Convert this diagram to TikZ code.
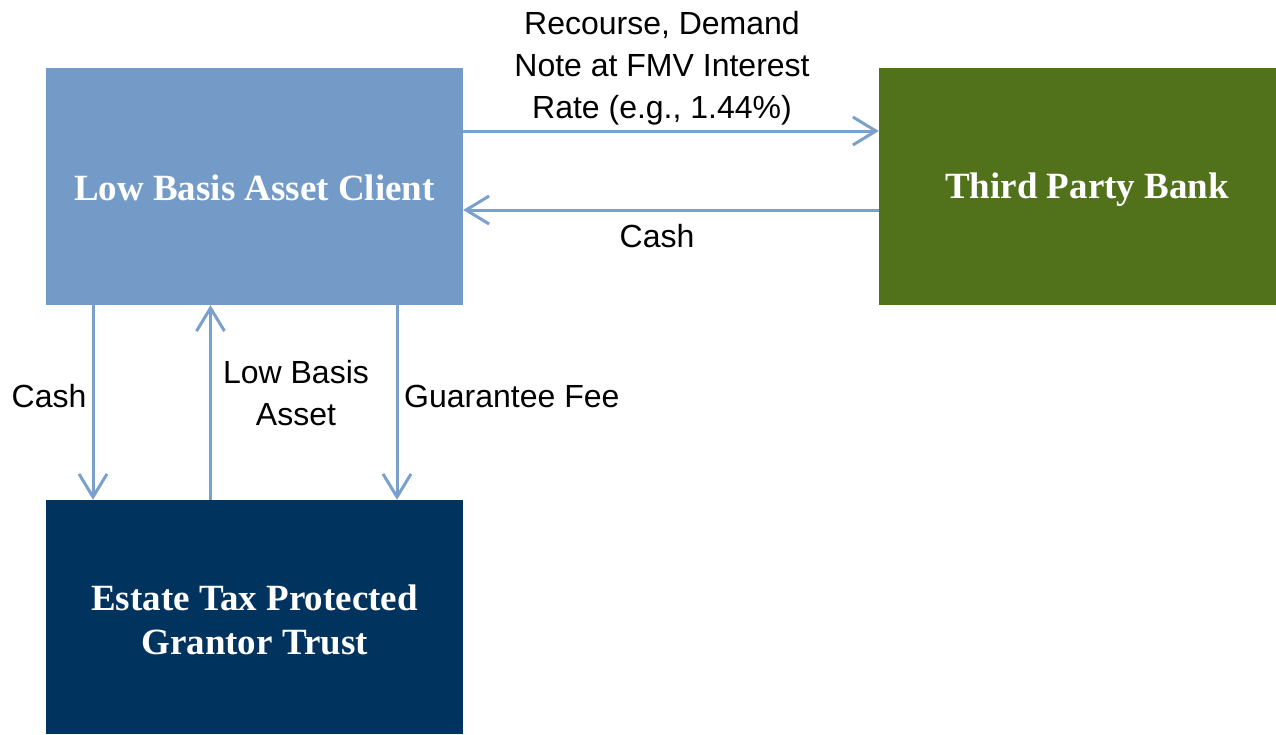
\documentclass[tikz,border=0pt]{standalone}
\usepackage{fontspec}
\setmainfont{Liberation Serif}
\newfontfamily\lsans{Liberation Sans}
\usetikzlibrary{arrows.meta,calc}
\definecolor{clientblue}{HTML}{749BC7}
\definecolor{bankgreen}{HTML}{52711B}
\definecolor{trustnavy}{HTML}{00345F}
\definecolor{arrowblue}{HTML}{7AA0CE}
\tikzset{
  box/.style={rectangle, inner sep=0pt, text=white, align=center,
    font=\fontsize{37}{44}\selectfont\bfseries},
  flow/.style={draw=arrowblue, line width=3pt,
    -{Straight Barb[length=23pt,width=28pt,line width=3pt]}},
  lbl/.style={align=center, inner sep=0pt, text=black,
    font=\lsans\fontsize{32}{42}\selectfont}
}
\begin{document}
\begin{tikzpicture}[x=1pt,y=-1pt]
\useasboundingbox[fill=white] (0,0) rectangle (1276,734);
\node[box, fill=clientblue, minimum width=417pt, minimum height=237pt] (client) at (254.5,186.5) {};
\node[box, fill=bankgreen, minimum width=397pt, minimum height=237pt] (bank) at (1077.5,186.5) {};
\node[box, fill=trustnavy, minimum width=417pt, minimum height=234pt] (trust) at (254.5,617) {};
\node[box] (clienttext) at (254.5,187.5) {Low Basis Asset Client};
\node[box] (banktext) at (1087,190) {Third Party Bank};
\node[box] (trusttext) at (254.5,620) {Estate Tax Protected\\Grantor Trust};
% horizontal flows
\draw[flow] ([yshift=55.5pt]client.east) -- ([yshift=55.5pt]client.east -| bank.west);
\draw[flow] ([yshift=-23.5pt]bank.west) -- ([yshift=-23.5pt]bank.west -| client.east);
% vertical flows
\draw[flow] ([xshift=-161.5pt]client.south) -- ([xshift=-161.5pt]client.south |- trust.north);
\draw[flow] ([xshift=-44pt]trust.north) -- ([xshift=-44pt]trust.north |- client.south);
\draw[flow] ([xshift=142.5pt]client.south) -- ([xshift=142.5pt]client.south |- trust.north);
% labels
\node[lbl] (note) at (662,68.5) {Recourse, Demand\\Note at FMV Interest\\Rate (e.g., 1.44\%)};
\node[lbl] (cashbank) at (657,236) {Cash};
\node[lbl] (cashtrust) at (49,396) {Cash};
\node[lbl] (asset) at (296,393) {Low Basis\\Asset};
\node[lbl, anchor=west] (fee) at (404,396) {Guarantee Fee};
\end{tikzpicture}
\end{document}
